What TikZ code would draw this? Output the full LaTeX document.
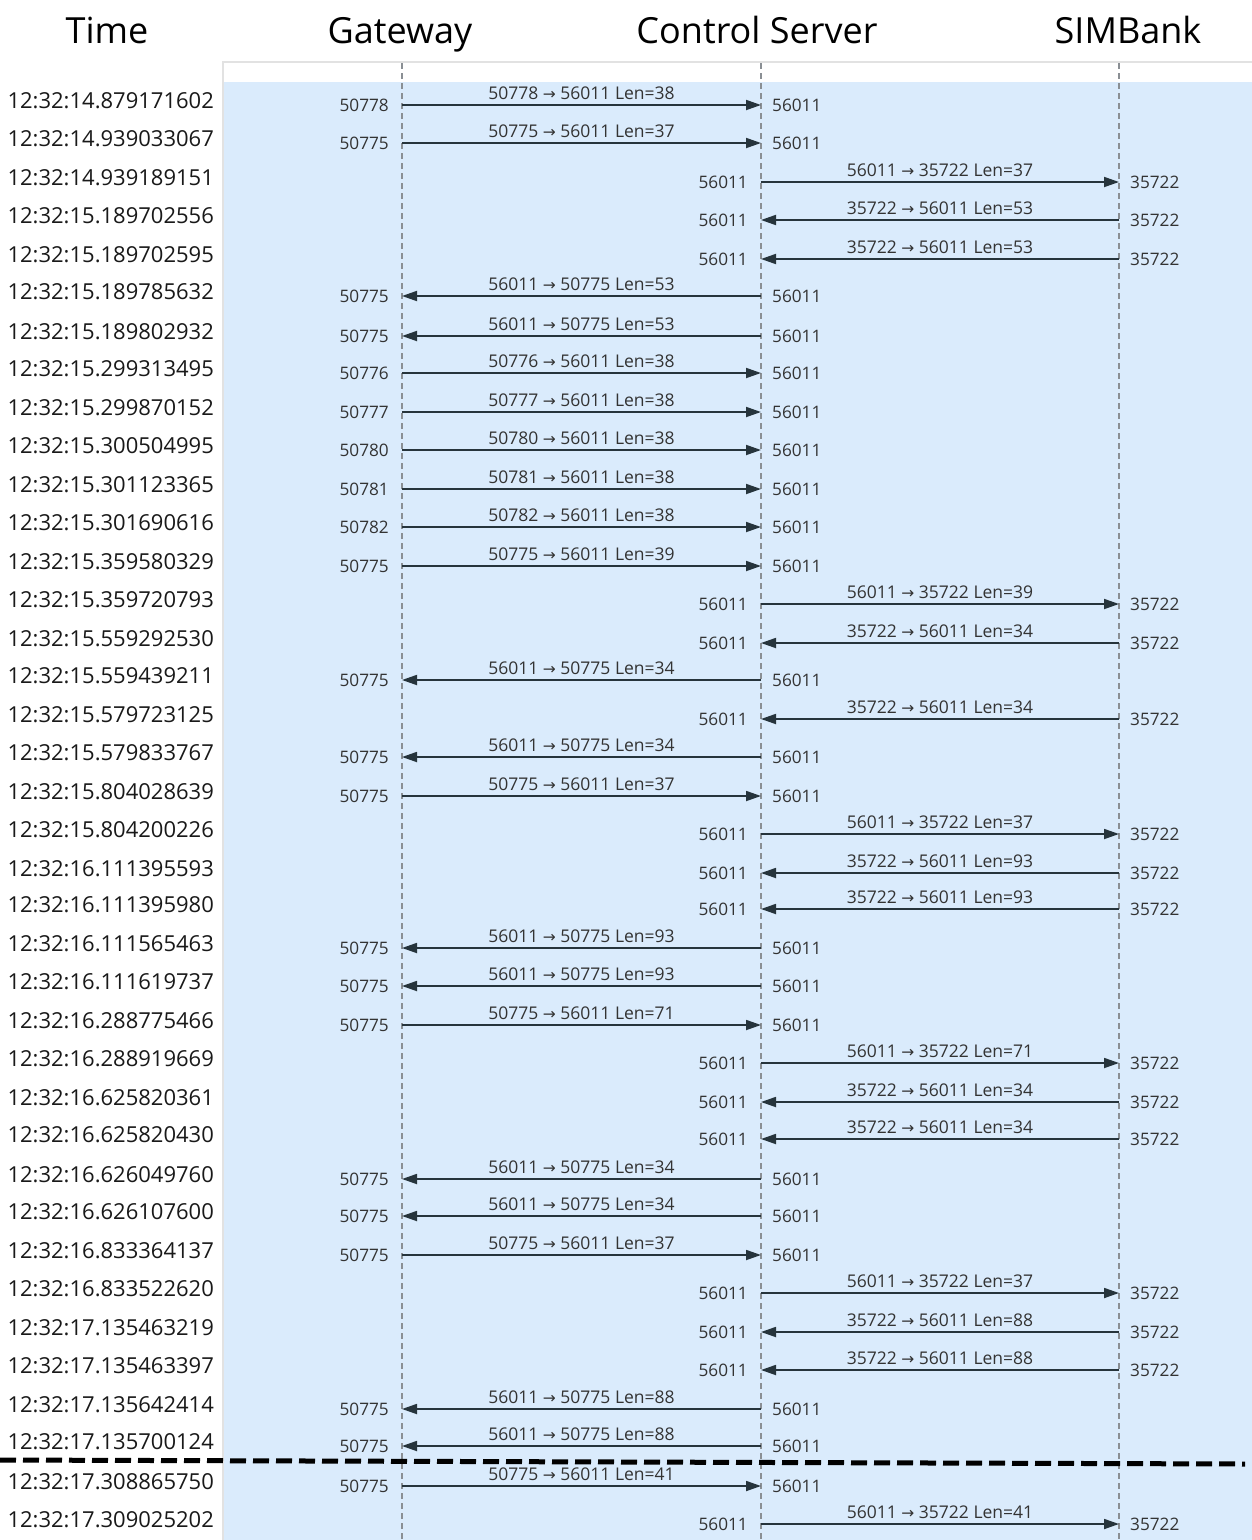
\documentclass[tikz,border=0pt]{standalone}
\usepackage{fontspec}
\setmainfont{Open Sans}
\newfontfamily\arrfont{DejaVu Sans}
\usetikzlibrary{arrows.meta}
\definecolor{panelblue}{HTML}{DAEBFC}
\definecolor{lifegray}{HTML}{8A8F94}
\definecolor{msgcol}{HTML}{26343C}
\definecolor{labcol}{HTML}{333333}
\definecolor{bordergray}{HTML}{E2E2E2}
\newcommand\arr{{\arrfont\fontsize{15.5}{15}\selectfont →}}
\tikzset{
  life/.style={lifegray, line width=1.2pt, dash pattern=on 6pt off 4pt},
  msg/.style={msgcol, line width=1.8pt, -{Triangle[length=15pt,width=10pt]}},
  tlabel/.style={anchor=east, inner sep=0pt, text=black!90, font=\fontsize{22}{26}\selectfont},
  plabel/.style={inner sep=0pt, text=labcol, font=\fontsize{17.2}{20}\selectfont},
  mlabel/.style={inner sep=0pt, text=labcol, font=\fontsize{17.5}{20}\selectfont, midway, yshift=12pt},
  head/.style={inner sep=0pt, anchor=base, text=black, font=\fontsize{36}{40}\selectfont},
}
% Gateway -> Control Server
\newcommand\gcmsg[5]{%
  \coordinate (g#1) at (402,#2); \coordinate (c#1) at (761,#2);
  \node[tlabel] (t#1) at (214,#2-4) {#5};
  \node[plabel, anchor=east] (pa#1) at (389,#2) {#3};
  \node[plabel, anchor=west] (pb#1) at (772,#2) {56011};
  \draw[msg] (g#1) -- node[mlabel] (m#1) {#3 \arr{} 56011 Len=#4} (c#1);
}
% Control Server -> Gateway
\newcommand\cgmsg[5]{%
  \coordinate (g#1) at (402,#2); \coordinate (c#1) at (761,#2);
  \node[tlabel] (t#1) at (214,#2-4) {#5};
  \node[plabel, anchor=east] (pa#1) at (389,#2) {#3};
  \node[plabel, anchor=west] (pb#1) at (772,#2) {56011};
  \draw[msg] (c#1) -- node[mlabel] (m#1) {56011 \arr{} #3 Len=#4} (g#1);
}
% Control Server -> SIMBank
\newcommand\csmsg[4]{%
  \coordinate (c#1) at (761,#2); \coordinate (s#1) at (1119,#2);
  \node[tlabel] (t#1) at (214,#2-4) {#4};
  \node[plabel, anchor=east] (pa#1) at (748,#2) {56011};
  \node[plabel, anchor=west] (pb#1) at (1130,#2) {35722};
  \draw[msg] (c#1) -- node[mlabel] (m#1) {56011 \arr{} 35722 Len=#3} (s#1);
}
% SIMBank -> Control Server
\newcommand\scmsg[4]{%
  \coordinate (c#1) at (761,#2); \coordinate (s#1) at (1119,#2);
  \node[tlabel] (t#1) at (214,#2-4) {#4};
  \node[plabel, anchor=east] (pa#1) at (748,#2) {56011};
  \node[plabel, anchor=west] (pb#1) at (1130,#2) {35722};
  \draw[msg] (s#1) -- node[mlabel] (m#1) {35722 \arr{} 56011 Len=#3} (c#1);
}
\begin{document}
\begin{tikzpicture}[x=1pt,y=-1pt]
\useasboundingbox (0,0) rectangle (1252,1540);
\fill[white] (0,0) rectangle (1252,1540);
% panel
\fill[panelblue] (224,82) rectangle (1252,1540);
\draw[bordergray, line width=2pt] (1252,62) -- (223,62) -- (223,1540);
% headers
\node[head] (hTime) at (107,43) {Time};
\node[head] (hGw) at (400,43) {Gateway};
\node[head] (hCs) at (757,43) {Control Server};
\node[head] (hSb) at (1128,43) {SIMBank};
% lifelines
\coordinate (gTop) at (402,63); \coordinate (gBot) at (402,1540);
\coordinate (cTop) at (761,63); \coordinate (cBot) at (761,1540);
\coordinate (sTop) at (1119,63); \coordinate (sBot) at (1119,1540);
\draw[life] (gTop) -- (gBot);
\draw[life] (cTop) -- (cBot);
\draw[life] (sTop) -- (sBot);
% messages
\gcmsg{1}{105}{50778}{38}{12:32:14.879171602}
\gcmsg{2}{143}{50775}{37}{12:32:14.939033067}
\csmsg{3}{182}{37}{12:32:14.939189151}
\scmsg{4}{220}{53}{12:32:15.189702556}
\scmsg{5}{259}{53}{12:32:15.189702595}
\cgmsg{6}{296}{50775}{53}{12:32:15.189785632}
\cgmsg{7}{336}{50775}{53}{12:32:15.189802932}
\gcmsg{8}{373}{50776}{38}{12:32:15.299313495}
\gcmsg{9}{412}{50777}{38}{12:32:15.299870152}
\gcmsg{10}{450}{50780}{38}{12:32:15.300504995}
\gcmsg{11}{489}{50781}{38}{12:32:15.301123365}
\gcmsg{12}{527}{50782}{38}{12:32:15.301690616}
\gcmsg{13}{566}{50775}{39}{12:32:15.359580329}
\csmsg{14}{604}{39}{12:32:15.359720793}
\scmsg{15}{643}{34}{12:32:15.559292530}
\cgmsg{16}{680}{50775}{34}{12:32:15.559439211}
\scmsg{17}{719}{34}{12:32:15.579723125}
\cgmsg{18}{757}{50775}{34}{12:32:15.579833767}
\gcmsg{19}{796}{50775}{37}{12:32:15.804028639}
\csmsg{20}{834}{37}{12:32:15.804200226}
\scmsg{21}{873}{93}{12:32:16.111395593}
\scmsg{22}{909}{93}{12:32:16.111395980}
\cgmsg{23}{948}{50775}{93}{12:32:16.111565463}
\cgmsg{24}{986}{50775}{93}{12:32:16.111619737}
\gcmsg{25}{1025}{50775}{71}{12:32:16.288775466}
\csmsg{26}{1063}{71}{12:32:16.288919669}
\scmsg{27}{1102}{34}{12:32:16.625820361}
\scmsg{28}{1139}{34}{12:32:16.625820430}
\cgmsg{29}{1179}{50775}{34}{12:32:16.626049760}
\cgmsg{30}{1216}{50775}{34}{12:32:16.626107600}
\gcmsg{31}{1255}{50775}{37}{12:32:16.833364137}
\csmsg{32}{1293}{37}{12:32:16.833522620}
\scmsg{33}{1332}{88}{12:32:17.135463219}
\scmsg{34}{1370}{88}{12:32:17.135463397}
\cgmsg{35}{1409}{50775}{88}{12:32:17.135642414}
\cgmsg{36}{1446}{50775}{88}{12:32:17.135700124}
\gcmsg{37}{1486}{50775}{41}{12:32:17.308865750}
\csmsg{38}{1524}{41}{12:32:17.309025202}
% separator
\coordinate (sepL) at (0,1460); \coordinate (sepR) at (1245,1464);
\draw[black, line width=5pt, dash pattern=on 16pt off 7pt] (sepL) -- (sepR);
\end{tikzpicture}
\end{document}
